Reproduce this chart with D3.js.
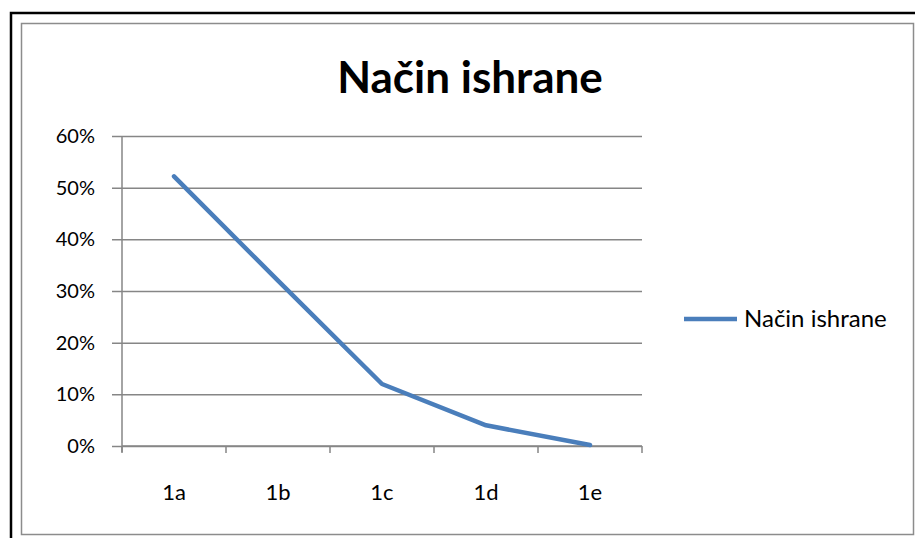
<!DOCTYPE html>
<html>
<head>
<meta charset="utf-8">
<script src="https://cdn.jsdelivr.net/npm/d3@7"></script>
<style>
  body { margin: 0; background: #fff; }
  svg { display: block; font-family: Lato, "Open Sans", sans-serif; }
</style>
</head>
<body>
<svg id="chart" width="915" height="538"></svg>
<script>
// chart values
const categories = ['1a', '1b', '1c', '1d', '1e'];
const values = [0.522, 0.32, 0.12, 0.04, 0.002];
const yTicks = [0, 0.1, 0.2, 0.3, 0.4, 0.5, 0.6];
const seriesName = 'Način ishrane';
const title = 'Način ishrane';

const LINE_COLOR = '#4a7ebb';
const GRID_COLOR = '#868686';

const svg = d3.select('#chart');

// outer black frame (only left + top visible in the crop)
svg.append('rect')
  .attr('x', 11).attr('y', 13)
  .attr('width', 960).attr('height', 600)
  .attr('fill', 'none')
  .attr('stroke', '#000')
  .attr('stroke-width', 2.5);

// chart area border
svg.append('rect')
  .attr('x', 21.5).attr('y', 23.5)
  .attr('width', 892).attr('height', 511)
  .attr('fill', '#fff')
  .attr('stroke', '#8c8c8c')
  .attr('stroke-width', 1.5);

const plot = { left: 122, right: 642, top: 136, bottom: 446 };

const x = d3.scaleBand()
  .domain(categories)
  .range([plot.left, plot.right]);

const y = d3.scaleLinear()
  .domain([0, 0.6])
  .range([plot.bottom, plot.top]);

// horizontal gridlines + y axis
let yAxis = d3.axisLeft(y)
  .tickValues(yTicks)
  .tickFormat(d3.format('.0%'))
  .tickSize(-(plot.right - plot.left))
  .tickPadding(27);
let gy = svg.append('g')
  .attr('transform', `translate(${plot.left},0)`)
  .call(yAxis);
gy.select('.domain').remove();
gy.selectAll('.tick line')
  .attr('x1', -10)
  .attr('stroke', GRID_COLOR)
  .attr('stroke-width', 1.5);
gy.selectAll('.tick text')
  .attr('font-size', 20)
  .attr('fill', '#000')
  .attr('font-family', 'Lato, sans-serif');

// vertical axis line
svg.append('line')
  .attr('x1', plot.left).attr('x2', plot.left)
  .attr('y1', plot.top).attr('y2', plot.bottom + 6)
  .attr('stroke', GRID_COLOR)
  .attr('stroke-width', 1.5);

// x axis: ticks on band boundaries, labels on centres
let gx = svg.append('g')
  .attr('transform', `translate(0,${plot.bottom})`);
gx.append('line')
  .attr('x1', plot.left).attr('x2', plot.right)
  .attr('stroke', GRID_COLOR)
  .attr('stroke-width', 1.5);
let bounds = categories.map(c => x(c)).concat([x.range()[1]]);
gx.selectAll('.xtick').data(bounds)
  .enter()
  .append('line')
  .classed('xtick', true)
  .attr('x1', d => d).attr('x2', d => d)
  .attr('y1', 0).attr('y2', 7)
  .attr('stroke', GRID_COLOR)
  .attr('stroke-width', 1.5);
gx.selectAll('.xlabel').data(categories)
  .enter()
  .append('text')
  .classed('xlabel', true)
  .attr('x', d => x(d) + x.bandwidth() / 2)
  .attr('y', 54)
  .attr('text-anchor', 'middle')
  .attr('font-size', 22)
  .text(d => d);

// the series
const line = d3.line()
  .x((d, i) => x(categories[i]) + x.bandwidth() / 2)
  .y(d => y(d));
svg.append('path')
  .datum(values)
  .attr('d', line)
  .attr('fill', 'none')
  .attr('stroke', LINE_COLOR)
  .attr('stroke-width', 4.5)
  .attr('stroke-linejoin', 'round')
  .attr('stroke-linecap', 'round');

// title
svg.append('text')
  .attr('x', 470)
  .attr('y', 93)
  .attr('text-anchor', 'middle')
  .attr('font-size', 44)
  .attr('font-weight', 'bold')
  .text(title);

// legend
let lg = svg.append('g').attr('transform', 'translate(684,319)');
lg.append('line')
  .attr('x1', 0).attr('x2', 53)
  .attr('stroke', LINE_COLOR)
  .attr('stroke-width', 4.5);
lg.append('text')
  .attr('x', 60)
  .attr('y', 8)
  .attr('font-size', 24)
  .text(seriesName);
</script>
</body>
</html>
